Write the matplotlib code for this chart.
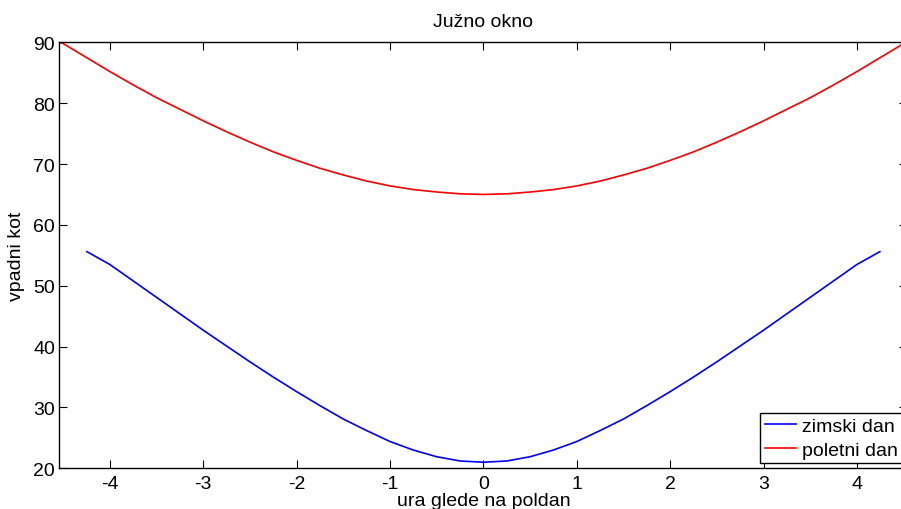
import matplotlib
matplotlib.use("Agg")
from matplotlib import pyplot as plt

# hours relative to solar noon and angle of incidence on the south window
ura_zima = [-4.245, -4.0, -3.75, -3.5, -3.25, -3.0, -2.75, -2.5, -2.25, -2.0,
            -1.75, -1.5, -1.25, -1.0, -0.75, -0.5, -0.25, 0.0,
            0.25, 0.5, 0.75, 1.0, 1.25, 1.5, 1.75, 2.0, 2.25, 2.5,
            2.75, 3.0, 3.25, 3.5, 3.75, 4.0, 4.245]
kot_zima = [55.6, 53.5, 50.8, 48.1, 45.4, 42.7, 40.1, 37.5, 35.0, 32.6,
            30.3, 28.1, 26.2, 24.4, 23.0, 21.9, 21.2, 21.0,
            21.2, 21.9, 23.0, 24.4, 26.2, 28.1, 30.3, 32.6, 35.0, 37.5,
            40.1, 42.7, 45.4, 48.1, 50.8, 53.5, 55.6]

ura_poletje = [-4.54, -4.5, -4.25, -4.0, -3.75, -3.5, -3.25, -3.0, -2.75, -2.5,
               -2.25, -2.0, -1.75, -1.5, -1.25, -1.0, -0.75, -0.5, -0.25, 0.0,
               0.25, 0.5, 0.75, 1.0, 1.25, 1.5, 1.75, 2.0, 2.25, 2.5,
               2.75, 3.0, 3.25, 3.5, 3.75, 4.0, 4.25, 4.5, 4.54]
kot_poletje = [90.0, 89.8, 87.5, 85.2, 83.0, 80.9, 79.0, 77.1, 75.3, 73.6,
               72.0, 70.6, 69.3, 68.2, 67.2, 66.4, 65.8, 65.4, 65.1, 65.0,
               65.1, 65.4, 65.8, 66.4, 67.2, 68.2, 69.3, 70.6, 72.0, 73.6,
               75.3, 77.1, 79.0, 80.9, 83.0, 85.2, 87.5, 89.8, 90.0]

x_ticks = [-4, -3, -2, -1, 0, 1, 2, 3, 4]
y_ticks = [20, 30, 40, 50, 60, 70, 80, 90]

plt.rcParams['font.family'] = ['Liberation Sans', 'DejaVu Sans']
plt.rcParams['axes.unicode_minus'] = False

fig = plt.figure(figsize=(9.01, 5.10), dpi=100)
ax = fig.add_axes([59.3 / 901, 1 - 469.3 / 510, (907.4 - 59.3) / 901, (469.3 - 43.3) / 510])

ax.plot(ura_zima, kot_zima, color=(0, 0, 1), linewidth=1.2, label="zimski dan")
ax.plot(ura_poletje, kot_poletje, color=(1, 0, 0), linewidth=1.2, label="poletni dan")

ax.set_xlim(-4.54, 4.54)
ax.set_ylim(20, 90)
ax.set_xticks(x_ticks)
ax.set_yticks(y_ticks)
ax.tick_params(direction='in', top=True, right=True, length=6, width=0.8,
               labelsize=14, color='black')
ax.tick_params(axis='y', pad=3)
ax.tick_params(axis='x', pad=5)
for s in ax.spines.values():
    s.set_linewidth(1.0)

ax.set_xlabel("ura glede na poldan", fontsize=14, labelpad=0)
ax.set_ylabel("vpadni kot", fontsize=14, labelpad=6)
ax.set_title("Južno okno", fontsize=14, pad=12)

leg = ax.legend(loc='lower right', fontsize=14, fancybox=False, framealpha=1,
                edgecolor='black', borderaxespad=0.25, handlelength=1.6,
                handletextpad=0.3, borderpad=0.25, labelspacing=0.3)
leg.get_frame().set_linewidth(1.0)

fig.savefig("out.png", dpi=100)
